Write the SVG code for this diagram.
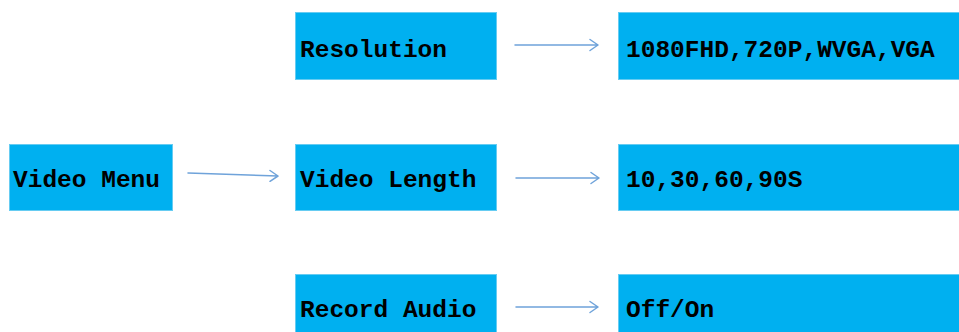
<svg xmlns="http://www.w3.org/2000/svg" width="959" height="332" viewBox="0 0 959 332">
<style>
.box{fill:#00B0F0;stroke:#66CCF2;stroke-width:1}
.t{font-family:"Liberation Mono","DejaVu Sans Mono",monospace;font-size:24.5px;font-weight:bold;fill:#000}
.c{fill:none;stroke:#6FA3DA;stroke-width:1.5;stroke-linecap:round;stroke-linejoin:round}
</style>
<rect width="959" height="332" fill="#fff"/>
<g id="video-menu"><rect class="box" x="9.5" y="144.5" width="163" height="66"/><text class="t" x="13" y="187">Video Menu</text></g>
<g id="resolution"><rect class="box" x="295.5" y="12.5" width="201" height="67"/><text class="t" x="300" y="57">Resolution</text></g>
<g id="video-length"><rect class="box" x="295.5" y="144.5" width="201" height="66"/><text class="t" x="300" y="187">Video Length</text></g>
<g id="record-audio"><rect class="box" x="295.5" y="274.5" width="201" height="62"/><text class="t" x="300" y="317">Record Audio</text></g>
<g id="resolution-values"><rect class="box" x="618.5" y="12.5" width="345" height="67"/><text class="t" x="626" y="57">1080FHD,720P,WVGA,VGA</text></g>
<g id="length-values"><rect class="box" x="618.5" y="144.5" width="345" height="66"/><text class="t" x="626" y="187">10,30,60,90S</text></g>
<g id="audio-values"><rect class="box" x="618.5" y="274.5" width="345" height="62"/><text class="t" x="626" y="317">Off/On</text></g>
<g id="connectors">
<path class="c" d="M188,173 L278,176 M270,170.5 L278,176 L270,181.3"/>
<path class="c" d="M515,45 L598,45 M590,39.5 L598,45 L590,50.5"/>
<path class="c" d="M516,178 L599,178 M591,172.5 L599,178 L591,183.5"/>
<path class="c" d="M516,307 L598,307 M590,301.5 L598,307 L590,312.5"/>
</g>
</svg>
